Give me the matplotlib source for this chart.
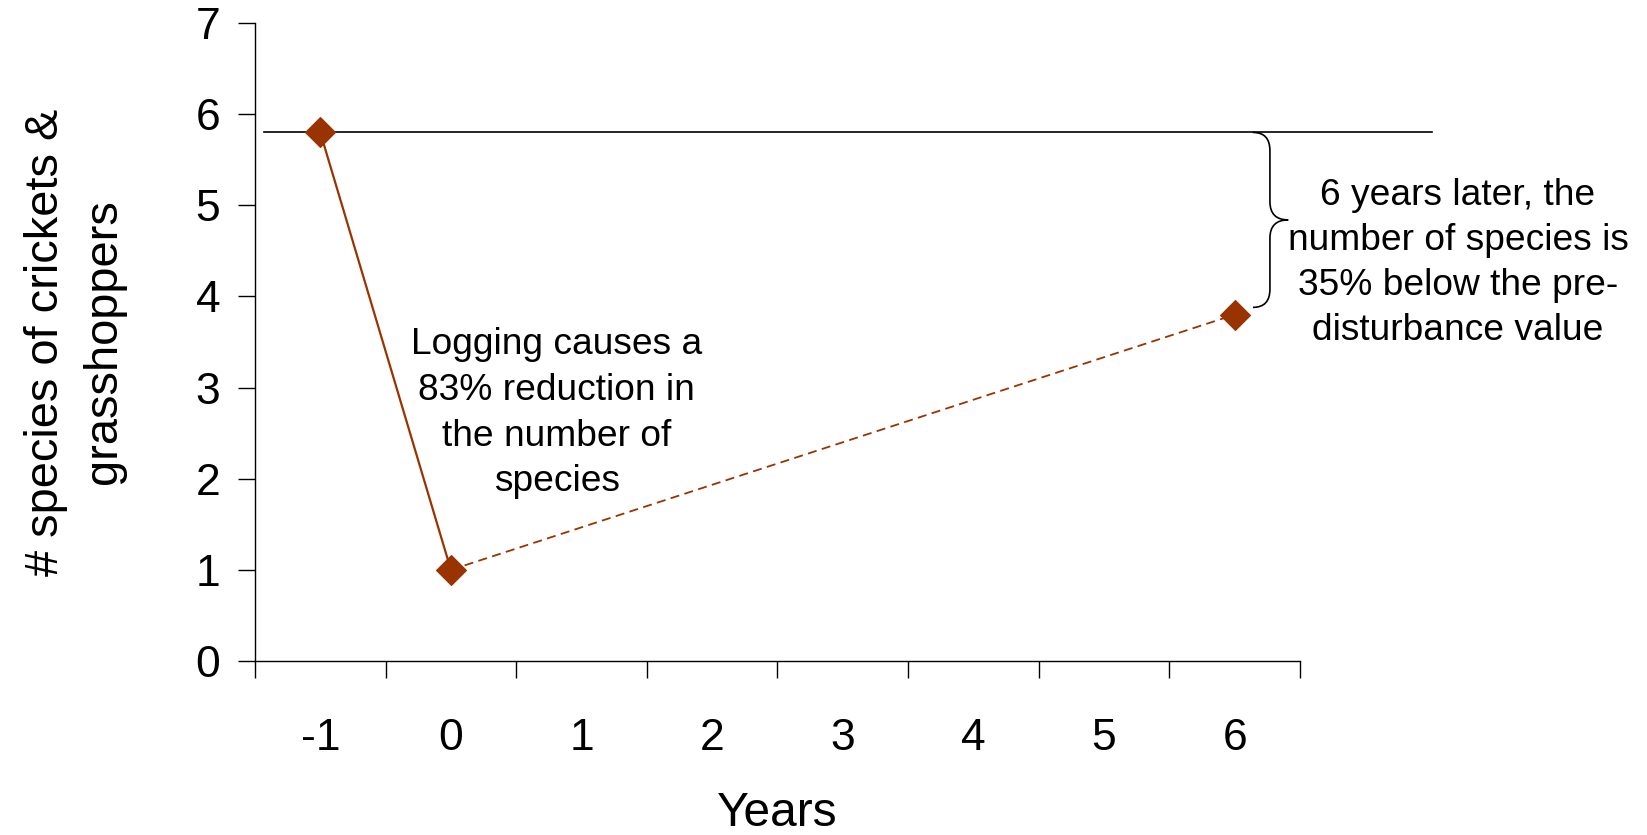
import matplotlib
matplotlib.use("Agg")
import matplotlib.pyplot as plt
from matplotlib.path import Path
from matplotlib.patches import PathPatch
import numpy as np

plt.rcParams['font.family'] = ['Liberation Sans', 'DejaVu Sans']

# data
years = ['-1', '0', '1', '2', '3', '4', '5', '6']
obs_years = ['-1', '0', '6']
species = [5.8, 1.0, 3.8]
baseline = 5.8

col = '#993300'

fig = plt.figure(figsize=(16.47, 8.35), dpi=100)
ax = fig.add_axes([0.1548, 0.2084, 0.6345, 0.764])

pos = [years.index(y) for y in obs_years]

# solid drop, then dashed recovery
ax.plot(pos[:2], species[:2], '-', c=col, lw=1.6, zorder=3)
ax.plot(pos[1:], species[1:], '--', c=col, lw=1.3, dashes=(5, 3), zorder=3)
ax.plot(pos, species, 'D', c=col, ms=15, mec=col, mew=0.8, zorder=4,
        clip_on=False)

# pre-disturbance level
ax.plot([-0.43, 8.51], [baseline, baseline], '-', c='black', lw=1.2,
        clip_on=False)

# curly brace between baseline and year-6 value
x0, xv, tip = 7.14, 7.27, 7.41
top, bot = baseline, species[-1] + 0.08
mid = (top + bot) / 2
r = 0.2
verts = [(x0, top), (xv, top), (xv, top - r),
         (xv, mid + r), (xv, mid), (tip, mid),
         (xv, mid), (xv, mid - r),
         (xv, bot + r), (xv, bot), (x0, bot)]
codes = [Path.MOVETO, Path.CURVE3, Path.CURVE3,
         Path.LINETO, Path.CURVE3, Path.CURVE3,
         Path.CURVE3, Path.CURVE3,
         Path.LINETO, Path.CURVE3, Path.CURVE3]
ax.add_patch(PathPatch(Path(verts, codes), fc='none', ec='black', lw=1.2,
                       clip_on=False))

ax.text(1.81, 2.72, "Logging causes a\n83% reduction in\nthe number of\nspecies",
        ha='center', va='center', fontsize=26.7, linespacing=1.4)
ax.text(8.71, 4.365, "6 years later, the\nnumber of species is\n35% below the pre-\ndisturbance value",
        ha='center', va='center', fontsize=26.7, linespacing=1.37,
        clip_on=False)

ax.set_xlim(-0.5, 7.5)
ax.set_ylim(0, 7)
ax.set_yticks(range(0, 8))
ax.set_xticks(np.arange(-0.5, 8, 1))
ax.set_xticklabels([])
ax.set_xticks(range(len(years)), minor=True)
ax.set_xticklabels(years, minor=True)
ax.tick_params(axis='x', which='major', direction='out', length=12, width=1)
ax.tick_params(axis='x', which='minor', length=0, pad=41, labelsize=32)
ax.tick_params(axis='y', direction='out', length=12, width=1, pad=13,
               labelsize=32)

for s in ['top', 'right']:
    ax.spines[s].set_visible(False)
for s in ['left', 'bottom']:
    ax.spines[s].set_linewidth(1)

ax.set_xlabel("Years", fontsize=34.5, labelpad=23)
ax.set_ylabel("# species of crickets &\ngrasshoppers", fontsize=33.8,
              linespacing=1.42, labelpad=50)

fig.savefig("out.png", dpi=100)
